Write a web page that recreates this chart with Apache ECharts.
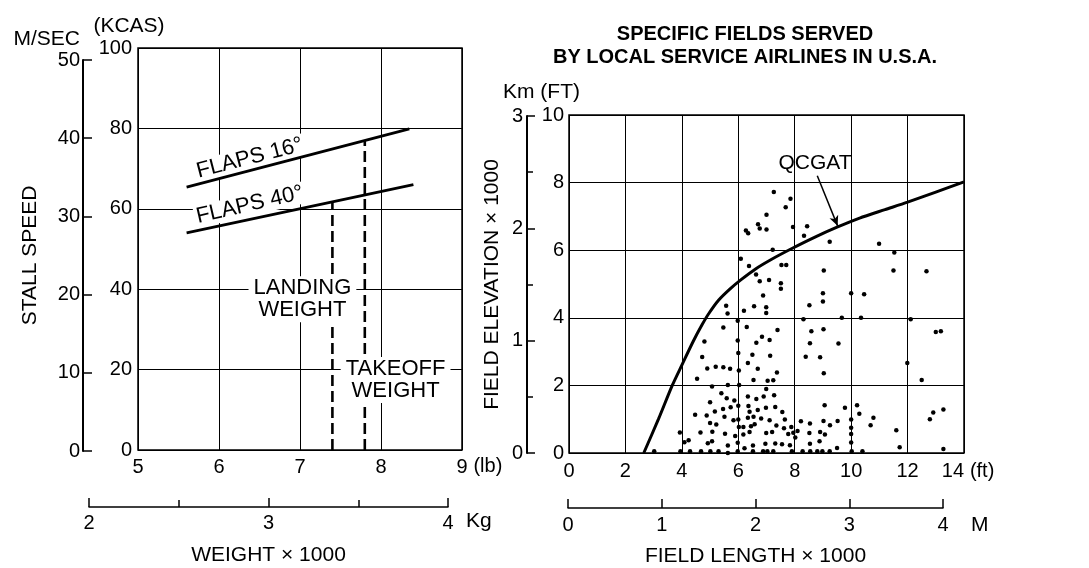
<!DOCTYPE html>
<html><head><meta charset="utf-8">
<script src="https://cdn.jsdelivr.net/npm/echarts@6/dist/echarts.min.js"></script>
<style>html,body{margin:0;padding:0;background:#fff}#c{width:1089px;height:568px}</style>
</head><body><div id="c"></div>
<script>
const FONT = '"Liberation Sans", Arimo, Arial, Helvetica, sans-serif';

// ---- Left chart: stall speed vs weight ----
const weightLbRange = [5, 9];
const stallKcasRange = [0, 100];
const stallMsRange = [0, 50];
const weightKgRange = [2, 4];
const flaps16 = [[5.6, 65.4], [8.35, 79.9]];
const flaps40 = [[5.6, 54.0], [8.4, 66.0]];
const landingWeightLine = [[7.4, 0], [7.4, 61.8]];
const takeoffWeightLine = [[7.8, 0], [7.8, 77.0]];

// ---- Right chart: field elevation vs field length (x1000 ft) ----
const fieldLengthRange = [0, 14];
const fieldElevRange = [0, 10];
const kmElevRange = [0, 3];
const mLengthRange = [0, 4];
const qcgatCurve = [[2.65,0],[3.17,1.0],[3.66,2.0],[4.0,2.6],[4.4,3.3],[4.72,3.8],[4.95,4.12],[5.3,4.52],
  [5.7,4.85],[6.1,5.13],[6.6,5.44],[7.2,5.74],[7.9,6.05],[8.7,6.38],[9.5,6.68],[10.3,6.95],
  [11.2,7.2],[12,7.42],[13,7.72],[14,8.02]];
const fieldPoints = [
  [7.26,7.72],[7.85,7.52],[7.68,7.27],[7.0,7.05],[6.70,6.77],[6.76,6.64],[6.27,6.58],[6.35,6.50],
  [7.0,6.61],[7.94,6.69],[8.44,6.71],[8.33,6.43],[9.24,6.25],[7.22,6.01],[6.09,5.75],[6.38,5.53],
  [7.53,5.56],[7.70,5.56],[6.63,5.28],[6.76,5.08],[7.09,5.12],[7.51,5.02],[7.51,4.86],[6.88,4.66],
  [10.99,6.19],[11.53,5.93],[9.03,5.40],[11.50,5.40],[12.67,5.38],
  [5.57,4.36],[5.62,4.13],[6.20,4.21],[6.56,4.34],[6.99,4.31],[6.99,4.14],[5.98,3.91],[5.47,3.71],
  [6.30,3.73],[7.39,3.64],[4.80,3.30],[5.98,3.33],[6.64,3.26],[6.84,3.44],[7.11,3.34],[4.72,2.84],
  [6.0,2.96],[6.50,2.91],[7.13,2.88],[6.34,2.66],[4.90,2.50],[5.20,2.55],[5.47,2.54],[5.71,2.49],
  [6.02,2.44],[6.69,2.49],[7.37,2.38],[4.54,2.20],[6.54,2.16],[7.04,2.14],[7.24,2.15],[5.07,1.97],
  [5.63,2.01],[6.03,2.01],[6.99,1.89],[5.40,1.77],[6.34,1.67],[6.64,1.60],[6.90,1.67],[7.27,1.71],
  [5.59,1.62],[5.86,1.55],[5.0,1.50],[5.73,1.35],[6.0,1.40],[6.36,1.39],[6.69,1.27],[6.98,1.34],
  [7.31,1.36],[4.47,1.13],[4.88,1.11],[5.17,1.23],[5.46,1.30],[5.51,1.07],[6.40,1.22],[6.54,1.07],
  [7.56,1.21],[7.65,0.99],[5.0,0.89],[5.22,0.84],[5.83,0.97],[6.0,0.99],[6.34,1.04],[6.81,1.02],
  [7.11,0.97],[6.02,0.77],[6.18,0.77],[6.45,0.79],[6.58,0.85],[7.35,0.81],[7.62,0.73],[7.88,0.77],
  [8.22,0.94],[8.54,0.87],[3.93,0.61],[4.66,0.61],[5.08,0.63],[5.53,0.57],[5.89,0.50],[6.18,0.55],
  [6.40,0.62],[6.99,0.59],[7.20,0.62],[7.77,0.56],[7.95,0.60],[8.10,0.65],[8.52,0.59],[8.90,0.62],
  [9.02,0.95],[9.25,0.82],[9.07,0.55],[9.52,0.95],[10.0,0.99],[10.0,0.75],[10.0,0.56],[10.0,0.31],
  [10.69,0.82],[10.79,1.04],[10.29,1.16],[10.21,1.41],[9.78,1.34],[9.06,1.41],[4.24,0.38],[4.09,0.32],
  [4.92,0.29],[5.07,0.35],[5.63,0.22],[5.98,0.30],[6.22,0.14],[6.52,0.22],[6.96,0.27],[7.31,0.28],
  [7.55,0.26],[7.83,0.23],[8.02,0.46],[8.54,0.27],[8.88,0.35],[9.50,0.15],[11.60,0.67],[11.72,0.17],
  [12.91,1.20],[13.27,1.29],[12.79,1.00],[13.27,0.12],
  [3.02,0.05],[3.95,0.05],[4.29,0.05],[4.68,0.05],[5.01,0.05],[5.30,0.05],[5.63,0.0],[5.98,0.05],
  [6.52,0.05],[6.88,0.05],[7.03,0.05],[7.24,0.05],[7.90,0.05],[8.28,0.05],[8.55,0.05],[8.80,0.05],
  [8.98,0.05],[9.24,0.05],[10.02,0.05],[10.40,0.05],
  [9.0,4.73],[9.0,4.48],[10.0,4.73],[10.46,4.70],[8.52,4.37],[8.31,3.96],[9.67,4.0],[10.35,4.0],
  [12.11,3.96],[8.59,3.60],[9.02,3.66],[8.54,3.25],[9.55,3.24],[13.0,3.58],[13.18,3.60],[8.39,2.85],
  [8.90,2.83],[9.03,2.36],[11.99,2.66],[12.5,2.16]
];

const txt = {fontFamily: FONT, color: '#000'};
const black = '#000';

function plotX(gi, range, interval, extra) {
  return Object.assign({
    type: 'value', gridIndex: gi, min: range[0], max: range[1], interval: interval,
    axisLine: {show: false}, axisTick: {show: false},
    axisLabel: Object.assign({fontSize: 20, margin: 7}, txt),
    splitLine: {show: true, lineStyle: {color: black, width: 1}}
  }, extra || {});
}
function hidden(gi) { return {type: 'value', gridIndex: gi, show: false, min: 0, max: 1}; }

const labelBase = Object.assign({show: true, position: 'inside', opacity: 1, textBorderWidth: 0}, txt);

const option = {
  animation: false,
  backgroundColor: '#fff',
  grid: [
    {left: 138, top: 48, width: 324, height: 402, show: true, borderColor: black, borderWidth: 1.5},
    {left: 83, top: 60, width: 1, height: 391},
    {left: 89, top: 506, width: 359, height: 1},
    {left: 569, top: 115, width: 395, height: 338, show: true, borderColor: black, borderWidth: 1.5},
    {left: 527, top: 116, width: 1, height: 337},
    {left: 568, top: 507, width: 375, height: 1}
  ],
  xAxis: [
    plotX(0, weightLbRange, 1, {name: '(lb)', nameLocation: 'end', nameGap: 5,
      nameTextStyle: Object.assign({fontSize: 20, verticalAlign: 'top', padding: [6, 0, 0, 0]}, txt)}),
    hidden(1),
    {type: 'value', gridIndex: 2, min: weightKgRange[0], max: weightKgRange[1], interval: 1,
      axisLine: {show: true, lineStyle: {color: black, width: 1.5}},
      axisTick: {show: true, inside: true, length: 9, lineStyle: {color: black, width: 1.5}},
      minorTick: {show: true, splitNumber: 2, length: 7, lineStyle: {color: black, width: 1.5}},
      axisLabel: Object.assign({fontSize: 20, margin: 6}, txt),
      splitLine: {show: false},
      name: 'WEIGHT × 1000', nameLocation: 'middle', nameGap: 38,
      nameTextStyle: Object.assign({fontSize: 21}, txt)},
    plotX(3, fieldLengthRange, 2, {name: '(ft)', nameLocation: 'end', nameGap: 1,
      axisLabel: Object.assign({fontSize: 20, margin: 8, alignMaxLabel: 'right'}, txt),
      nameTextStyle: Object.assign({fontSize: 20, verticalAlign: 'top', padding: [8, 0, 0, 0]}, txt)}),
    hidden(4),
    {type: 'value', gridIndex: 5, min: mLengthRange[0], max: mLengthRange[1], interval: 1,
      axisLine: {show: true, lineStyle: {color: black, width: 1.5}},
      axisTick: {show: true, inside: true, length: 9, lineStyle: {color: black, width: 1.5}},
      axisLabel: Object.assign({fontSize: 20, margin: 7}, txt),
      splitLine: {show: false},
      name: 'FIELD LENGTH × 1000', nameLocation: 'middle', nameGap: 38,
      nameTextStyle: Object.assign({fontSize: 21}, txt)}
  ],
  yAxis: [
    plotX(0, stallKcasRange, 20, {axisLabel: Object.assign({fontSize: 20, margin: 6}, txt)}),
    {type: 'value', gridIndex: 1, min: stallMsRange[0], max: stallMsRange[1], interval: 10,
      axisLine: {show: true, lineStyle: {color: black, width: 2}},
      axisTick: {show: true, inside: true, length: 9, lineStyle: {color: black, width: 1.5}},
      axisLabel: Object.assign({fontSize: 20, margin: 3}, txt),
      splitLine: {show: false},
      name: 'STALL SPEED', nameLocation: 'middle', nameGap: 42,
      nameTextStyle: Object.assign({fontSize: 21}, txt)},
    hidden(2),
    plotX(3, fieldElevRange, 2, {axisLabel: Object.assign({fontSize: 20, margin: 5}, txt)}),
    {type: 'value', gridIndex: 4, min: kmElevRange[0], max: kmElevRange[1], interval: 1,
      axisLine: {show: true, lineStyle: {color: black, width: 2}},
      axisTick: {show: true, inside: true, length: 8, lineStyle: {color: black, width: 1.5}},
      minorTick: {show: true, splitNumber: 2, length: 6, lineStyle: {color: black, width: 1.5}},
      axisLabel: Object.assign({fontSize: 20, margin: 4}, txt),
      splitLine: {show: false},
      name: 'FIELD ELEVATION × 1000', nameLocation: 'middle', nameGap: 24,
      nameTextStyle: Object.assign({fontSize: 21}, txt)},
    hidden(5)
  ],
  graphic: [
    {type: 'text', x: 80, y: 39, style: {text: 'M/SEC', font: '21px ' + FONT, fill: black, textAlign: 'right', align: 'right', textVerticalAlign: 'middle', verticalAlign: 'middle'}},
    {type: 'text', x: 129, y: 26, style: {text: '(KCAS)', font: '21px ' + FONT, fill: black, textAlign: 'center', align: 'center', textVerticalAlign: 'middle', verticalAlign: 'middle'}},
    {type: 'text', x: 466, y: 521, style: {text: 'Kg', font: '21px ' + FONT, fill: black, textAlign: 'left', align: 'left', textVerticalAlign: 'middle', verticalAlign: 'middle'}},
    {type: 'text', x: 971, y: 525, style: {text: 'M', font: '21px ' + FONT, fill: black, textAlign: 'left', align: 'left', textVerticalAlign: 'middle', verticalAlign: 'middle'}},
    {type: 'text', x: 503, y: 92, style: {text: 'Km (FT)', font: '21px ' + FONT, fill: black, textAlign: 'left', align: 'left', textVerticalAlign: 'middle', verticalAlign: 'middle'}},
    {type: 'text', x: 745, y: 46, style: {text: 'SPECIFIC FIELDS SERVED\nBY LOCAL SERVICE AIRLINES IN U.S.A.', font: 'bold 20px ' + FONT, lineHeight: 23, fill: black, textAlign: 'center', align: 'center', textVerticalAlign: 'middle', verticalAlign: 'middle'}}
  ],
  series: [
    {type: 'line', xAxisIndex: 0, yAxisIndex: 0, data: flaps16, symbol: 'none', z: 3,
      lineStyle: {color: black, width: 2.8}},
    {type: 'line', xAxisIndex: 0, yAxisIndex: 0, data: flaps40, symbol: 'none', z: 3,
      lineStyle: {color: black, width: 2.8}},
    {type: 'line', xAxisIndex: 0, yAxisIndex: 0, data: landingWeightLine, symbol: 'none', z: 2,
      lineStyle: {color: black, width: 2.6, type: [11, 5]}},
    {type: 'line', xAxisIndex: 0, yAxisIndex: 0, data: takeoffWeightLine, symbol: 'none', z: 2,
      lineStyle: {color: black, width: 2.6, type: [11, 5]}},
    {type: 'scatter', xAxisIndex: 0, yAxisIndex: 0, symbolSize: 0, z: 1, silent: true,
      itemStyle: {opacity: 1},
      label: Object.assign({fontSize: 22, backgroundColor: '#fff', padding: [0, 2]}, labelBase),
      data: [
        {value: [6.38, 72.6], label: {formatter: 'FLAPS 16°', rotate: 14.5}},
        {value: [6.38, 61.0], label: {formatter: 'FLAPS 40°', rotate: 13}}
      ]},
    {type: 'scatter', xAxisIndex: 0, yAxisIndex: 0, symbolSize: 0, z: 4, silent: true,
      itemStyle: {opacity: 1},
      label: Object.assign({fontSize: 22, lineHeight: 22, align: 'center', backgroundColor: '#fff', padding: [1, 5]}, labelBase),
      data: [
        {value: [7.03, 37.5], label: {formatter: 'LANDING\nWEIGHT'}},
        {value: [8.18, 17.4], label: {formatter: 'TAKEOFF\nWEIGHT'}}
      ]},
    {type: 'scatter', xAxisIndex: 3, yAxisIndex: 3, data: fieldPoints, symbol: 'circle', symbolSize: 4.5,
      itemStyle: {color: black, opacity: 1}, z: 2},
    {type: 'line', xAxisIndex: 3, yAxisIndex: 3, data: qcgatCurve, symbol: 'none', smooth: 0.25,
      z: 3, lineStyle: {color: black, width: 3}},
    {type: 'scatter', xAxisIndex: 3, yAxisIndex: 3, symbolSize: 0, z: 4, silent: true,
      itemStyle: {opacity: 1},
      label: Object.assign({fontSize: 21, formatter: 'QCGAT'}, labelBase),
      data: [[8.72, 8.58]],
      markLine: {silent: true, symbol: ['none', 'arrow'], symbolSize: [7, 10],
        lineStyle: {color: black, width: 1.5, type: 'solid', opacity: 1}, label: {show: false},
        data: [[{coord: [8.8, 8.2]}, {coord: [9.52, 6.72]}]]}}
  ]
};

const chart = echarts.init(document.getElementById('c'), null, {renderer: 'canvas'});
chart.setOption(option);
</script></body></html>
